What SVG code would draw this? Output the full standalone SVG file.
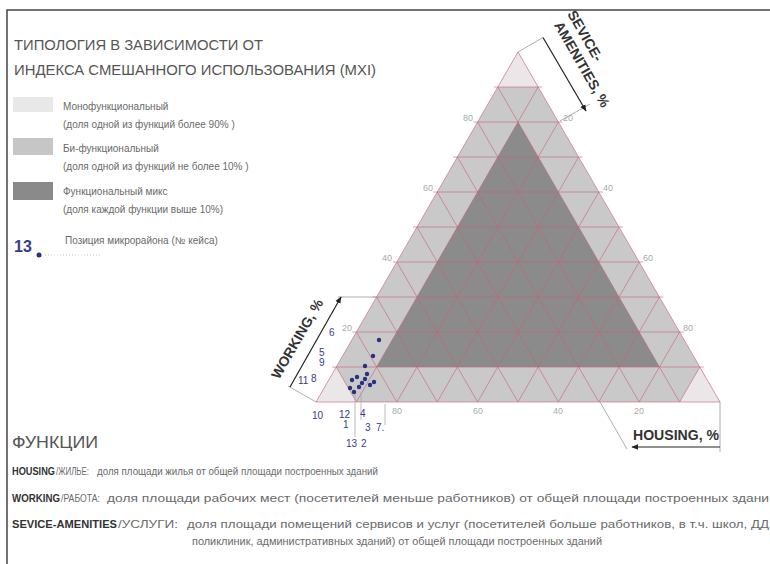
<svg xmlns="http://www.w3.org/2000/svg" width="770" height="564" viewBox="0 0 770 564">
<defs>
<style>
text{font-family:"Liberation Sans",Arial,sans-serif}
.title{font-size:15px;fill:#555}
.leg{font-size:10px;fill:#6a6a6a}
.grid{fill:none;stroke:#c8607a;stroke-opacity:0.6;stroke-width:1}
.ax{font-size:9px;fill:#aaa}
.axis{stroke:#222;stroke-width:1.2;fill:none}
.ext{stroke:#999;stroke-width:0.8;fill:none}
.axlab{font-size:14px;font-weight:bold;fill:#333}
.num{font-size:10px;fill:#3a3a8c}
.dot{fill:#2a2f7f}
.lead{stroke:#aaa;stroke-width:0.8;fill:none}
.fn{font-size:10px;fill:#6a6a6a}
.kw{font-size:10px;font-weight:bold;fill:#333}
</style>
<marker id="ah" viewBox="0 0 10 10" refX="9" refY="5" markerWidth="7" markerHeight="7" orient="auto-start-reverse" markerUnits="userSpaceOnUse">
<path d="M0,1 L10,5 L0,9 Z" fill="#222"/>
</marker>
</defs>
<rect width="770" height="564" fill="#fff"/>
<path d="M7,564 V10 H770" fill="none" stroke="#444" stroke-width="1.5"/>

<g id="title">
<text class="title" x="14" y="50" textLength="249" lengthAdjust="spacingAndGlyphs">ТИПОЛОГИЯ  В ЗАВИСИМОСТИ ОТ</text>
<text class="title" x="14" y="75" textLength="362" lengthAdjust="spacingAndGlyphs">ИНДЕКСА СМЕШАННОГО ИСПОЛЬЗОВАНИЯ (MXI)</text>
</g>

<g id="legend">
<g id="leg-mono">
<rect x="13" y="97" width="40" height="15" fill="#e8e8e8"/>
<text class="leg" x="63" y="110">Монофункциональный</text>
<text class="leg" x="63" y="128">(доля одной из функций более 90% )</text>
</g>
<g id="leg-bi">
<rect x="13" y="138" width="40" height="17" fill="#c6c6c6"/>
<text class="leg" x="63" y="152">Би-функциональный</text>
<text class="leg" x="63" y="170">(доля одной из функций  не более 10% )</text>
</g>
<g id="leg-mix">
<rect x="13" y="182" width="40" height="18" fill="#8a8a8a"/>
<text class="leg" x="63" y="195">Функциональный микс</text>
<text class="leg" x="63" y="213">(доля каждой функции выше 10%)</text>
</g>
<g id="leg-pos">
<text x="14" y="252" font-size="16" font-weight="bold" fill="#3a3a8c">13</text>
<circle class="dot" cx="39" cy="255" r="2.5"/>
<line x1="45" y1="255" x2="100" y2="255" stroke="#bbb" stroke-width="0.8" stroke-dasharray="1,2"/>
<text class="leg" x="65" y="244">Позиция микрорайона (№ кейса)</text>
</g>
</g>

<g id="triangle">
<polygon points="316,402 720,402 518,52" fill="#c9c9c9"/>
<polygon points="518,52 497.8,87 538.2,87" fill="#ebe7e8"/>
<polygon points="316,402 356.4,402 336.2,367" fill="#ebe7e8"/>
<polygon points="720,402 679.6,402 699.8,367" fill="#ebe7e8"/>
<polygon points="518,122 376.6,367 659.4,367" fill="#8b8b8b"/>
<path class="grid" d="M332.2,367H703.8M352.4,332H683.6M372.6,297H663.4M392.8,262H643.2M413,227H623M433.2,192H602.8M453.4,157H582.6M473.6,122H562.4M493.8,87H542.2"/>
<path class="grid" d="M356.4,402L538.2,87M396.8,402L558.4,122M437.2,402L578.6,157M477.6,402L598.8,192M518,402L619,227M558.4,402L639.2,262M598.8,402L659.4,297M639.2,402L679.6,332M679.6,402L699.8,367"/>
<path class="grid" d="M356.4,402L336.2,367M396.8,402L356.4,332M437.2,402L376.6,297M477.6,402L396.8,262M518,402L417,227M558.4,402L437.2,192M598.8,402L457.4,157M639.2,402L477.6,122M679.6,402L497.8,87"/>
<polygon class="grid" points="316,402 720,402 518,52"/>
<g id="ticks">
<text class="ax" x="473" y="121" text-anchor="end">80</text>
<text class="ax" x="433" y="191" text-anchor="end">60</text>
<text class="ax" x="392" y="261" text-anchor="end">40</text>
<text class="ax" x="352" y="331" text-anchor="end">20</text>
<text class="ax" x="563" y="121">20</text>
<text class="ax" x="603" y="191">40</text>
<text class="ax" x="643" y="261">60</text>
<text class="ax" x="683" y="331">80</text>
<text class="ax" x="397" y="414" text-anchor="middle">80</text>
<text class="ax" x="478" y="414" text-anchor="middle">60</text>
<text class="ax" x="558" y="414" text-anchor="middle">40</text>
<text class="ax" x="639" y="414" text-anchor="middle">20</text>
</g>
</g>

<g id="connectors">
<path class="ext" d="M518,52L543,37.5M560,121L590,104M316,402L288,386M338,297H377M720,402V452M600,402L627,449"/>
<line class="axis" x1="543" y1="37.5" x2="586" y2="111" marker-end="url(#ah)"/>
<line class="axis" x1="290" y1="387" x2="341" y2="297" marker-end="url(#ah)"/>
<line class="axis" x1="720" y1="447" x2="632" y2="447" marker-end="url(#ah)"/>
<path class="lead" d="M355,393V437M361,392V420M385,404V425"/>
</g>

<g id="axis-service">
<g transform="translate(567,14) rotate(60)">
<text class="axlab" x="0" y="0">SEVICE-</text>
<text class="axlab" x="3" y="17">AMENITIES, %</text>
</g>
</g>
<g id="axis-working">
<text class="axlab" transform="translate(279,380) rotate(-60)">WORKING, %</text>
</g>
<g id="axis-housing">
<text class="axlab" x="633" y="440" textLength="86" lengthAdjust="spacingAndGlyphs">HOUSING, %</text>
</g>

<g id="points">
<circle class="dot" cx="379" cy="340" r="2.2"/>
<circle class="dot" cx="373" cy="356" r="2.2"/>
<circle class="dot" cx="365" cy="366" r="2.2"/>
<circle class="dot" cx="352" cy="380" r="2.2"/>
<circle class="dot" cx="357" cy="377" r="2.2"/>
<circle class="dot" cx="362" cy="383" r="2.2"/>
<circle class="dot" cx="365" cy="379" r="2.2"/>
<circle class="dot" cx="370" cy="385" r="2.2"/>
<circle class="dot" cx="374" cy="382" r="2.2"/>
<circle class="dot" cx="350" cy="388" r="2.2"/>
<circle class="dot" cx="354" cy="392" r="2.2"/>
<circle class="dot" cx="367" cy="374" r="2.2"/>
<circle class="dot" cx="359" cy="387" r="2.2"/>
<text class="num" x="329" y="336">6</text>
<text class="num" x="319" y="356" font-size="7.5">5</text>
<text class="num" x="319" y="366" font-size="7.5">9</text>
<text class="num" x="298" y="384">11</text>
<text class="num" x="311" y="382">8</text>
<text class="num" x="312" y="419">10</text>
<text class="num" x="339" y="418">12</text>
<text class="num" x="343" y="428">1</text>
<text class="num" x="360" y="417">4</text>
<text class="num" x="365" y="431">3</text>
<text class="num" x="376" y="431">7.</text>
<text class="num" x="346" y="447">13</text>
<text class="num" x="361" y="447">2</text>
</g>

<g id="functions">
<text x="12" y="448" font-size="16" fill="#555" textLength="86" lengthAdjust="spacingAndGlyphs">ФУНКЦИИ</text>
<text class="kw" x="12" y="475" textLength="43" lengthAdjust="spacingAndGlyphs">HOUSING</text>
<text class="fn" x="56" y="475" textLength="33" lengthAdjust="spacingAndGlyphs">/ЖИЛЬЕ:</text>
<text class="fn" x="97" y="475" textLength="281" lengthAdjust="spacingAndGlyphs">доля площади жилья от общей площади построенных зданий</text>
<text class="kw" x="12" y="502" textLength="48" lengthAdjust="spacingAndGlyphs">WORKING</text>
<text class="fn" x="61" y="502" textLength="39" lengthAdjust="spacingAndGlyphs">/РАБОТА:</text>
<text class="fn" x="107" y="502" textLength="662" lengthAdjust="spacingAndGlyphs">доля площади рабочих мест (посетителей меньше работников) от общей площади построенных здани</text>
<text class="kw" x="12" y="528" textLength="105" lengthAdjust="spacingAndGlyphs">SEVICE-AMENITIES</text>
<text class="fn" x="118" y="528" textLength="60" lengthAdjust="spacingAndGlyphs">/УСЛУГИ:</text>
<text class="fn" x="187" y="528" textLength="582" lengthAdjust="spacingAndGlyphs">доля площади помещений сервисов и услуг (посетителей больше работников,   в т.ч. школ, ДД</text>
<text class="fn" x="192" y="545" textLength="410" lengthAdjust="spacingAndGlyphs">поликлиник, административных зданий) от общей площади построенных зданий</text>
</g>
</svg>
